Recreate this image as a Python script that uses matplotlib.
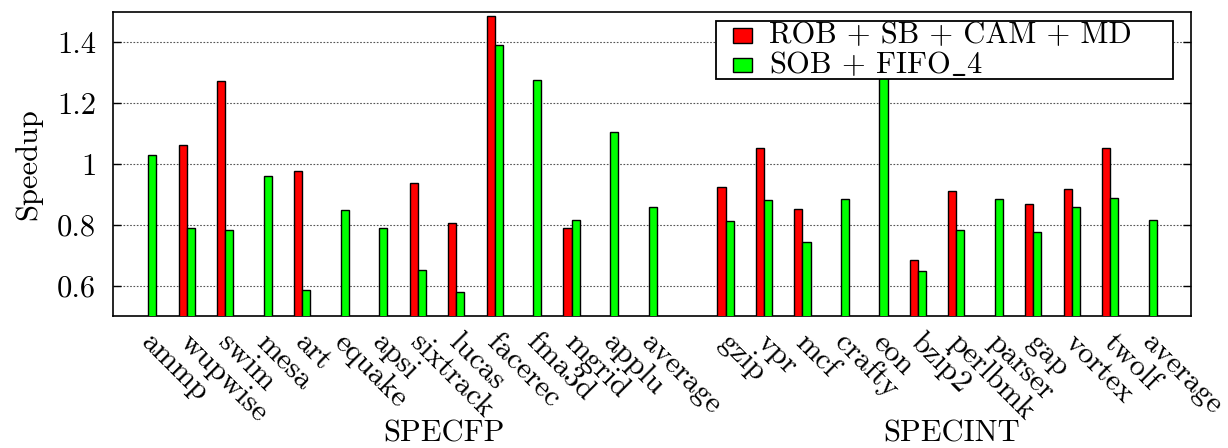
import numpy as np
import matplotlib
matplotlib.use("Agg")
import matplotlib.pyplot as plt
from matplotlib.patches import Rectangle
from matplotlib.transforms import ScaledTranslation, blended_transform_factory

plt.rcParams['font.family'] = ['cmr10', 'DejaVu Serif']
plt.rcParams['mathtext.fontset'] = 'cm'
plt.rcParams['axes.formatter.use_mathtext'] = True

# Benchmarks (SPECFP then SPECINT); None = no bar for that configuration
fp_names = ["ammp", "wupwise", "swim", "mesa", "art", "equake", "apsi",
            "sixtrack", "lucas", "facerec", "fma3d", "mgrid", "applu", "average"]
int_names = ["gzip", "vpr", "mcf", "crafty", "eon", "bzip2", "perlbmk",
             "parser", "gap", "vortex", "twolf", "average"]

fp_rob = [None, 1.064, 1.274, None, 0.976, None, None,
          0.938, 0.807, 1.488, None, 0.788, None, None]
fp_sob = [1.030, 0.789, 0.783, 0.962, 0.586, 0.850, 0.789,
          0.650, 0.578, 1.393, 1.276, 0.816, 1.105, 0.860]

int_rob = [0.926, 1.054, 0.851, None, None, 0.685, 0.910,
           None, 0.869, 0.918, 1.054, None]
int_sob = [0.814, 0.882, 0.745, 0.885, 1.300, 0.649, 0.783,
           0.885, 0.777, 0.858, 0.888, 0.817]

series_labels = ["ROB + SB + CAM + MD", r"SOB + FIFO$\_$4"]
series_colors = ["#ff0000", "#00ff00"]
group_labels = ["SPECFP", "SPECINT"]
y_ticks = [0.6, 0.8, 1.0, 1.2, 1.4]
y_tick_labels = ["0.6", "0.8", "1", "1.2", "1.4"]

# Positions: one empty slot between the two suites
fp_pos = np.arange(len(fp_names))
int_pos = np.arange(len(int_names)) + len(fp_names) + 1
positions = np.concatenate([fp_pos, int_pos]).astype(float)
names = fp_names + int_names
rob = fp_rob + int_rob
sob = fp_sob + int_sob

fig = plt.figure(figsize=(12.28, 4.48), dpi=100)
ax = fig.add_axes([0.092, 0.2946, 0.878, 0.6786])

width = 0.21
fs = 22

rob_x = np.array([p for p, v in zip(positions, rob) if v is not None])
rob_v = [v for v in rob if v is not None]
ax.bar(rob_x - width, rob_v, width=width, align='edge',
       color=series_colors[0], edgecolor='black', linewidth=1.0, zorder=3)
ax.bar(positions, sob, width=width, align='edge',
       color=series_colors[1], edgecolor='black', linewidth=1.0, zorder=3)

ax.set_xlim(-0.917, 27.1)
ax.set_ylim(0.5, 1.5)

ax.set_yticks(y_ticks)
ax.set_yticklabels(y_tick_labels, fontsize=fs)
ax.yaxis.grid(True, linestyle=(0, (1.5, 1.5)), color='#555555',
              linewidth=0.8, zorder=1)
ax.tick_params(axis='y', direction='in', length=6, width=1.0,
               right=True, pad=12)

ax.set_xticks(positions)
ax.set_xticklabels(names, fontsize=fs, rotation=-45, ha='left',
                   va='top', rotation_mode='anchor')
ax.tick_params(axis='x', length=0, pad=9)
shift = ScaledTranslation(7 / 100, 0, fig.dpi_scale_trans)
for lbl in ax.get_xticklabels():
    lbl.set_transform(lbl.get_transform() + shift)

for s in ax.spines.values():
    s.set_linewidth(1.2)

ax.set_ylabel("Speedup", fontsize=fs)
ax.yaxis.set_label_coords(-0.066, 0.5)

# Suite names under the benchmark labels
trans = blended_transform_factory(ax.transData, fig.transFigure)
ax.text(7.68, 7 / 448, group_labels[0], transform=trans, ha='center',
        va='baseline', fontsize=fs)
ax.text(20.88, 7 / 448, group_labels[1], transform=trans, ha='center',
        va='baseline', fontsize=fs)

# Opaque key box in the upper right
W, H = 1078.0, 304.0
def fx(px):
    return (px - 113) / W
def fy(py):
    return (316 - py) / H

ax.add_patch(Rectangle((fx(716), fy(79.3)), fx(1173) - fx(716),
                       fy(21) - fy(79.3), transform=ax.transAxes,
                       facecolor='white', edgecolor='black', linewidth=1.3,
                       zorder=6, clip_on=False))
rows = [(28.3, 43.3, 43.3), (57.7, 72.3, 73.3)]
for (top, bot, base), lab, col in zip(rows, series_labels, series_colors):
    ax.add_patch(Rectangle((fx(733.3), fy(bot)), fx(751.7) - fx(733.3),
                           fy(top) - fy(bot), transform=ax.transAxes,
                           facecolor=col, edgecolor='black', linewidth=1.0,
                           zorder=7, clip_on=False))
    ax.text(fx(769), fy(base), lab, transform=ax.transAxes, ha='left',
            va='baseline', fontsize=fs, zorder=8)

fig.savefig("out.png", dpi=100)
